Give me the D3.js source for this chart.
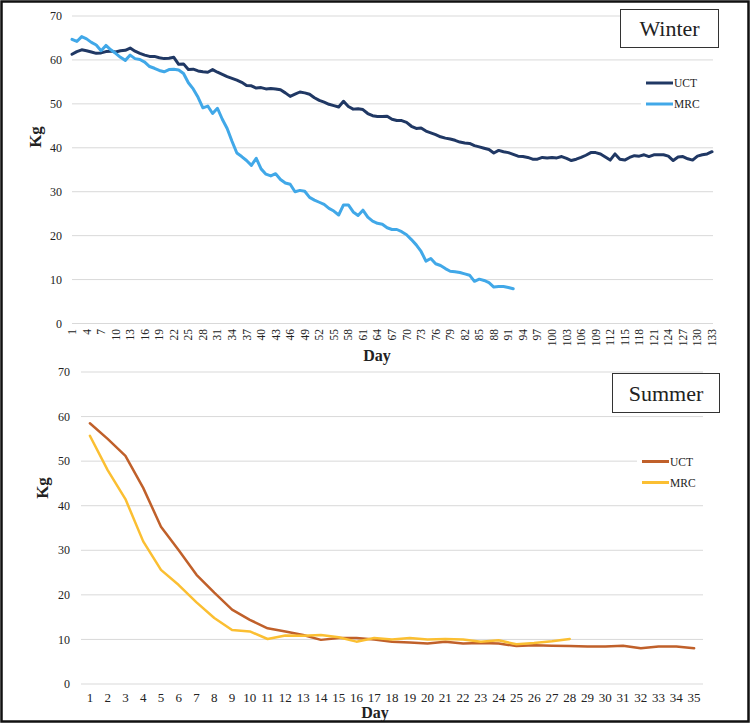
<!DOCTYPE html>
<html>
<head>
<meta charset="utf-8">
<script src="https://cdn.jsdelivr.net/npm/d3@7"></script>
<style>
  html, body { margin: 0; padding: 0; background: #fff; }
  svg { display: block; }
  text { font-family: "Liberation Serif", "Times New Roman", serif; fill: #222; }
</style>
</head>
<body>
<svg id="chart" width="751" height="724"></svg>
<script>
// ---------- DATA ----------
const winterDays = d3.range(1, 134);
const winterTickDays = d3.range(1, 134, 3);
const yTicks = [0, 10, 20, 30, 40, 50, 60, 70];
const seriesNames = ["UCT", "MRC"];

const winterUCT = [
  61.3, 61.9, 62.3, 62.1, 61.8, 61.5, 61.6, 61.9, 62.0, 61.8,
  62.1, 62.2, 62.7, 62.0, 61.5, 61.1, 60.8, 60.8, 60.5, 60.3,
  60.4, 60.6, 59.0, 59.1, 57.8, 57.9, 57.5, 57.3, 57.2, 57.8,
  57.2, 56.7, 56.2, 55.8, 55.4, 54.9, 54.2, 54.1, 53.6, 53.7,
  53.4, 53.5, 53.4, 53.2, 52.5, 51.7, 52.2, 52.7, 52.5, 52.2,
  51.4, 50.8, 50.4, 49.9, 49.6, 49.3, 50.6, 49.4, 48.8, 48.9,
  48.7, 47.8, 47.3, 47.1, 47.1, 47.2, 46.5, 46.2, 46.2, 45.8,
  44.9, 44.4, 44.5, 43.8, 43.4, 43.0, 42.5, 42.2, 42.0, 41.7,
  41.3, 41.1, 41.0, 40.5, 40.2, 39.9, 39.6, 38.8, 39.4, 39.1,
  38.9, 38.5, 38.1, 38.0, 37.8, 37.4, 37.4, 37.8, 37.7, 37.8,
  37.7, 38.0, 37.6, 37.1, 37.4, 37.8, 38.3, 38.9, 38.9, 38.6,
  37.9, 37.2, 38.6, 37.4, 37.2, 37.8, 38.2, 38.1, 38.4, 38.0,
  38.4, 38.4, 38.4, 38.1, 37.1, 37.9, 38.0, 37.5, 37.2, 38.1,
  38.4, 38.6, 39.1
];
const winterMRC = [
  64.7, 64.2, 65.3, 64.8, 64.0, 63.4, 62.1, 63.3, 62.3, 61.5,
  60.6, 59.9, 61.1, 60.3, 60.1, 59.5, 58.5, 58.1, 57.6, 57.3,
  57.8, 57.9, 57.7, 56.9, 54.8, 53.4, 51.5, 49.1, 49.5, 47.8,
  49.0, 46.5, 44.4, 41.5, 38.8, 38.0, 37.1, 36.0, 37.6, 35.2,
  34.0, 33.6, 34.1, 32.8, 32.0, 31.7, 30.0, 30.3, 30.1, 28.7,
  28.1, 27.6, 27.1, 26.2, 25.6, 24.7, 27.0, 27.0, 25.4, 24.6,
  25.8, 24.2, 23.3, 22.8, 22.6, 21.8, 21.4, 21.4, 20.9, 20.2,
  19.1, 17.9, 16.4, 14.2, 14.8, 13.6, 13.2, 12.5, 11.9, 11.8,
  11.6, 11.3, 11.0, 9.6, 10.1, 9.8, 9.3, 8.3, 8.4, 8.4,
  8.2, 7.9
];

const summerDays = d3.range(1, 36);
const summerUCT = [
  58.5, 55.0, 51.2, 44.0, 35.3, 30.0, 24.5, 20.5, 16.7, 14.4,
  12.5, 11.8, 11.0, 9.9, 10.3, 10.3, 10.0, 9.5, 9.3, 9.1,
  9.5, 9.1, 9.2, 9.1, 8.5, 8.7, 8.6, 8.5, 8.4, 8.4,
  8.6, 8.0, 8.4, 8.4, 8.0
];
const summerMRC = [
  55.7, 48.0, 41.5, 32.0, 25.6, 22.2, 18.3, 14.8, 12.1, 11.8,
  10.1, 10.9, 10.8, 11.0, 10.5, 9.5, 10.3, 10.0, 10.3, 10.0,
  10.1, 10.0, 9.5, 9.8, 8.9, 9.2, 9.6, 10.1
];

const winterColors = ["#203864", "#41a8e8"];
const summerColors = ["#c0602a", "#fbbf32"];

// ---------- DRAW ----------
const svg = d3.select("#chart");
svg.append("rect").attr("x", 0).attr("y", 0).attr("width", 751).attr("height", 724).attr("fill", "#fff");

// ===== Winter panel =====
const wx = d3.scalePoint().domain(winterDays).range([72, 712]);
const wy = d3.scaleLinear().domain([0, 70]).range([323.5, 16]);
const wg = svg.append("g");

wg.selectAll("line.grid").data(yTicks).join("line")
  .attr("x1", 72).attr("x2", 713)
  .attr("y1", d => wy(d)).attr("y2", d => wy(d))
  .attr("stroke", "#d9d9d9").attr("stroke-width", 1);

wg.selectAll("text.yt").data(yTicks).join("text")
  .attr("x", 62).attr("y", d => wy(d)).attr("dy", "0.35em")
  .attr("text-anchor", "end").attr("font-size", 12).text(d => d);

wg.selectAll("text.xt").data(winterTickDays).join("text")
  .attr("transform", d => `translate(${wx(d)},329) rotate(-90)`)
  .attr("dy", "0.35em").attr("text-anchor", "end").attr("font-size", 11.5)
  .text(d => d);

const wLine = d3.line().x((d, i) => wx(winterDays[i])).y(d => wy(d));
[winterUCT, winterMRC].forEach((s, k) => {
  wg.append("path").datum(s).attr("d", wLine)
    .attr("fill", "none").attr("stroke", winterColors[k]).attr("stroke-width", 3)
    .attr("stroke-linejoin", "round").attr("stroke-linecap", "round");
});

wg.append("text").attr("transform", "translate(41,137) rotate(-90)")
  .attr("text-anchor", "middle").attr("font-size", 17).attr("font-weight", "bold").attr("fill", "#111").text("Kg");
wg.append("text").attr("x", 377).attr("y", 361)
  .attr("text-anchor", "middle").attr("font-size", 16).attr("font-weight", "bold").attr("fill", "#111").text("Day");

// legend
const wl = wg.append("g");
wl.append("rect").attr("x", 641).attr("y", 72).attr("width", 72).attr("height", 44).attr("fill", "#fff");
seriesNames.forEach((n, k) => {
  const yy = 83 + k * 21;
  wl.append("line").attr("x1", 646).attr("x2", 673).attr("y1", yy).attr("y2", yy)
    .attr("stroke", winterColors[k]).attr("stroke-width", 3);
  wl.append("text").attr("x", 674).attr("y", yy).attr("dy", "0.35em").attr("font-size", 11.5).text(n);
});
// title box
wg.append("rect").attr("x", 620.5).attr("y", 9.5).attr("width", 98).attr("height", 38)
  .attr("fill", "#fff").attr("stroke", "#333").attr("stroke-width", 1);
wg.append("text").attr("x", 669.5).attr("y", 36).attr("text-anchor", "middle")
  .attr("font-size", 22).attr("fill", "#111").text("Winter");

// ===== Summer panel =====
const sx = d3.scaleBand().domain(summerDays).range([81, 703]);
const sy = d3.scaleLinear().domain([0, 70]).range([684, 372]);
const sg = svg.append("g");

sg.selectAll("line.grid").data(yTicks).join("line")
  .attr("x1", 81).attr("x2", 703)
  .attr("y1", d => sy(d)).attr("y2", d => sy(d))
  .attr("stroke", "#d9d9d9").attr("stroke-width", 1);

sg.selectAll("text.yt").data(yTicks).join("text")
  .attr("x", 70).attr("y", d => sy(d)).attr("dy", "0.35em")
  .attr("text-anchor", "end").attr("font-size", 12).text(d => d);

sg.selectAll("text.xt").data(summerDays).join("text")
  .attr("x", d => sx(d) + sx.bandwidth() / 2).attr("y", 702)
  .attr("text-anchor", "middle").attr("font-size", 13).text(d => d);

const sLine = d3.line().x((d, i) => sx(summerDays[i]) + sx.bandwidth() / 2).y(d => sy(d));
[summerUCT, summerMRC].forEach((s, k) => {
  sg.append("path").datum(s).attr("d", sLine)
    .attr("fill", "none").attr("stroke", summerColors[k]).attr("stroke-width", 2.5)
    .attr("stroke-linejoin", "round").attr("stroke-linecap", "round");
});

sg.append("text").attr("transform", "translate(48,488) rotate(-90)")
  .attr("text-anchor", "middle").attr("font-size", 17).attr("font-weight", "bold").attr("fill", "#111").text("Kg");
sg.append("text").attr("x", 375).attr("y", 718)
  .attr("text-anchor", "middle").attr("font-size", 16).attr("font-weight", "bold").attr("fill", "#111").text("Day");

const sl = sg.append("g");
sl.append("rect").attr("x", 637).attr("y", 451).attr("width", 72).attr("height", 42).attr("fill", "#fff");
seriesNames.forEach((n, k) => {
  const yy = 461.5 + k * 21;
  sl.append("line").attr("x1", 642).attr("x2", 669).attr("y1", yy).attr("y2", yy)
    .attr("stroke", summerColors[k]).attr("stroke-width", 3);
  sl.append("text").attr("x", 670).attr("y", yy).attr("dy", "0.35em").attr("font-size", 11.5).text(n);
});
sg.append("rect").attr("x", 612.5).attr("y", 373.5).attr("width", 107).attr("height", 39)
  .attr("fill", "#fff").attr("stroke", "#333").attr("stroke-width", 1);
sg.append("text").attr("x", 666).attr("y", 400.5).attr("text-anchor", "middle")
  .attr("font-size", 22).attr("fill", "#111").text("Summer");

// outer frame
svg.append("rect").attr("x", 1.5).attr("y", 1.5).attr("width", 747).attr("height", 720)
  .attr("fill", "none").attr("stroke", "#111").attr("stroke-width", 2.5);
</script>
</body>
</html>
